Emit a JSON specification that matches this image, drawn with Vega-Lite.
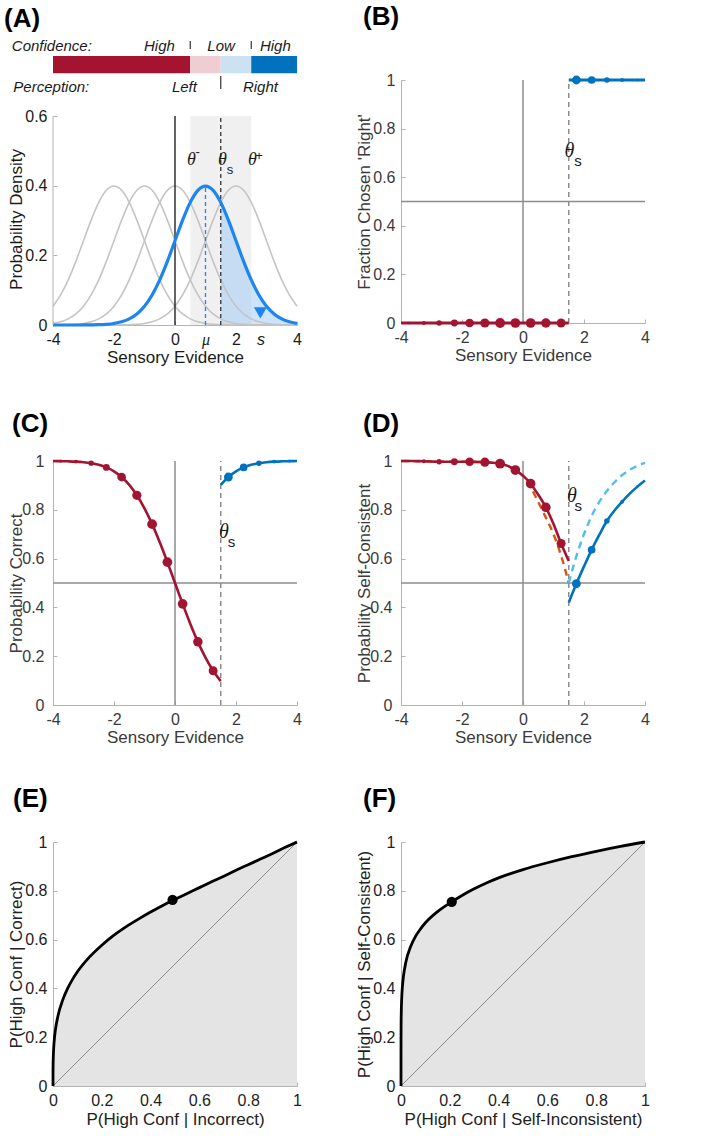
{
"$schema": "https://vega.github.io/schema/vega-lite/v6.json",
"background": "white",
"padding": {"left": 4, "top": 4, "right": 10, "bottom": 10},
"columns": 2,
"spacing": {"row": 136, "column": 104},
"bounds": "flush",
"align": "all",
"resolve": {"scale": {"color": "independent", "size": "independent"}},
"datasets": {
"gauss": [
{"x":-4,"y":0.054,"m":"a"},{"x":-3.75,"y":0.0863,"m":"a"},{"x":-3.5,"y":0.1295,"m":"a"},{"x":-3.25,"y":0.1826,"m":"a"},{"x":-3,"y":0.242,"m":"a"},{"x":-2.75,"y":0.3011,"m":"a"},{"x":-2.5,"y":0.3521,"m":"a"},{"x":-2.25,"y":0.3867,"m":"a"},{"x":-2,"y":0.3989,"m":"a"},{"x":-1.75,"y":0.3867,"m":"a"},{"x":-1.5,"y":0.3521,"m":"a"},{"x":-1.25,"y":0.3011,"m":"a"},{"x":-1,"y":0.242,"m":"a"},{"x":-0.75,"y":0.1826,"m":"a"},{"x":-0.5,"y":0.1295,"m":"a"},{"x":-0.25,"y":0.0863,"m":"a"},{"x":0,"y":0.054,"m":"a"},{"x":0.25,"y":0.0317,"m":"a"},{"x":0.5,"y":0.0175,"m":"a"},{"x":0.75,"y":0.0091,"m":"a"},{"x":1,"y":0.0044,"m":"a"},{"x":1.25,"y":0.002,"m":"a"},{"x":1.5,"y":0.0009,"m":"a"},{"x":1.75,"y":0.0004,"m":"a"},{"x":2,"y":0.0001,"m":"a"},{"x":2.25,"y":0,"m":"a"},{"x":2.5,"y":0,"m":"a"},{"x":2.75,"y":0,"m":"a"},{"x":3,"y":0,"m":"a"},{"x":3.25,"y":0,"m":"a"},{"x":3.5,"y":0,"m":"a"},{"x":3.75,"y":0,"m":"a"},{"x":4,"y":0,"m":"a"},
{"x":-4,"y":0.0044,"m":"c"},{"x":-3.75,"y":0.0091,"m":"c"},{"x":-3.5,"y":0.0175,"m":"c"},{"x":-3.25,"y":0.0317,"m":"c"},{"x":-3,"y":0.054,"m":"c"},{"x":-2.75,"y":0.0863,"m":"c"},{"x":-2.5,"y":0.1295,"m":"c"},{"x":-2.25,"y":0.1826,"m":"c"},{"x":-2,"y":0.242,"m":"c"},{"x":-1.75,"y":0.3011,"m":"c"},{"x":-1.5,"y":0.3521,"m":"c"},{"x":-1.25,"y":0.3867,"m":"c"},{"x":-1,"y":0.3989,"m":"c"},{"x":-0.75,"y":0.3867,"m":"c"},{"x":-0.5,"y":0.3521,"m":"c"},{"x":-0.25,"y":0.3011,"m":"c"},{"x":0,"y":0.242,"m":"c"},{"x":0.25,"y":0.1826,"m":"c"},{"x":0.5,"y":0.1295,"m":"c"},{"x":0.75,"y":0.0863,"m":"c"},{"x":1,"y":0.054,"m":"c"},{"x":1.25,"y":0.0317,"m":"c"},{"x":1.5,"y":0.0175,"m":"c"},{"x":1.75,"y":0.0091,"m":"c"},{"x":2,"y":0.0044,"m":"c"},{"x":2.25,"y":0.002,"m":"c"},{"x":2.5,"y":0.0009,"m":"c"},{"x":2.75,"y":0.0004,"m":"c"},{"x":3,"y":0.0001,"m":"c"},{"x":3.25,"y":0,"m":"c"},{"x":3.5,"y":0,"m":"c"},{"x":3.75,"y":0,"m":"c"},{"x":4,"y":0,"m":"c"},
{"x":-4,"y":0.0001,"m":"d"},{"x":-3.75,"y":0.0004,"m":"d"},{"x":-3.5,"y":0.0009,"m":"d"},{"x":-3.25,"y":0.002,"m":"d"},{"x":-3,"y":0.0044,"m":"d"},{"x":-2.75,"y":0.0091,"m":"d"},{"x":-2.5,"y":0.0175,"m":"d"},{"x":-2.25,"y":0.0317,"m":"d"},{"x":-2,"y":0.054,"m":"d"},{"x":-1.75,"y":0.0863,"m":"d"},{"x":-1.5,"y":0.1295,"m":"d"},{"x":-1.25,"y":0.1826,"m":"d"},{"x":-1,"y":0.242,"m":"d"},{"x":-0.75,"y":0.3011,"m":"d"},{"x":-0.5,"y":0.3521,"m":"d"},{"x":-0.25,"y":0.3867,"m":"d"},{"x":0,"y":0.3989,"m":"d"},{"x":0.25,"y":0.3867,"m":"d"},{"x":0.5,"y":0.3521,"m":"d"},{"x":0.75,"y":0.3011,"m":"d"},{"x":1,"y":0.242,"m":"d"},{"x":1.25,"y":0.1826,"m":"d"},{"x":1.5,"y":0.1295,"m":"d"},{"x":1.75,"y":0.0863,"m":"d"},{"x":2,"y":0.054,"m":"d"},{"x":2.25,"y":0.0317,"m":"d"},{"x":2.5,"y":0.0175,"m":"d"},{"x":2.75,"y":0.0091,"m":"d"},{"x":3,"y":0.0044,"m":"d"},{"x":3.25,"y":0.002,"m":"d"},{"x":3.5,"y":0.0009,"m":"d"},{"x":3.75,"y":0.0004,"m":"d"},{"x":4,"y":0.0001,"m":"d"},
{"x":-4,"y":0,"m":"e"},{"x":-3.75,"y":0,"m":"e"},{"x":-3.5,"y":0,"m":"e"},{"x":-3.25,"y":0,"m":"e"},{"x":-3,"y":0,"m":"e"},{"x":-2.75,"y":0,"m":"e"},{"x":-2.5,"y":0,"m":"e"},{"x":-2.25,"y":0,"m":"e"},{"x":-2,"y":0.0001,"m":"e"},{"x":-1.75,"y":0.0004,"m":"e"},{"x":-1.5,"y":0.0009,"m":"e"},{"x":-1.25,"y":0.002,"m":"e"},{"x":-1,"y":0.0044,"m":"e"},{"x":-0.75,"y":0.0091,"m":"e"},{"x":-0.5,"y":0.0175,"m":"e"},{"x":-0.25,"y":0.0317,"m":"e"},{"x":0,"y":0.054,"m":"e"},{"x":0.25,"y":0.0863,"m":"e"},{"x":0.5,"y":0.1295,"m":"e"},{"x":0.75,"y":0.1826,"m":"e"},{"x":1,"y":0.242,"m":"e"},{"x":1.25,"y":0.3011,"m":"e"},{"x":1.5,"y":0.3521,"m":"e"},{"x":1.75,"y":0.3867,"m":"e"},{"x":2,"y":0.3989,"m":"e"},{"x":2.25,"y":0.3867,"m":"e"},{"x":2.5,"y":0.3521,"m":"e"},{"x":2.75,"y":0.3011,"m":"e"},{"x":3,"y":0.242,"m":"e"},{"x":3.25,"y":0.1826,"m":"e"},{"x":3.5,"y":0.1295,"m":"e"},{"x":3.75,"y":0.0863,"m":"e"},{"x":4,"y":0.054,"m":"e"},
{"x":-4,"y":0,"m":"b"},{"x":-3.75,"y":0,"m":"b"},{"x":-3.5,"y":0,"m":"b"},{"x":-3.25,"y":0,"m":"b"},{"x":-3,"y":0.0001,"m":"b"},{"x":-2.75,"y":0.0004,"m":"b"},{"x":-2.5,"y":0.0009,"m":"b"},{"x":-2.25,"y":0.002,"m":"b"},{"x":-2,"y":0.0044,"m":"b"},{"x":-1.75,"y":0.0091,"m":"b"},{"x":-1.5,"y":0.0175,"m":"b"},{"x":-1.25,"y":0.0317,"m":"b"},{"x":-1,"y":0.054,"m":"b"},{"x":-0.75,"y":0.0863,"m":"b"},{"x":-0.5,"y":0.1295,"m":"b"},{"x":-0.25,"y":0.1826,"m":"b"},{"x":0,"y":0.242,"m":"b"},{"x":0.25,"y":0.3011,"m":"b"},{"x":0.5,"y":0.3521,"m":"b"},{"x":0.75,"y":0.3867,"m":"b"},{"x":1,"y":0.3989,"m":"b"},{"x":1.25,"y":0.3867,"m":"b"},{"x":1.5,"y":0.3521,"m":"b"},{"x":1.75,"y":0.3011,"m":"b"},{"x":2,"y":0.242,"m":"b"},{"x":2.25,"y":0.1826,"m":"b"},{"x":2.5,"y":0.1295,"m":"b"},{"x":2.75,"y":0.0863,"m":"b"},{"x":3,"y":0.054,"m":"b"},{"x":3.25,"y":0.0317,"m":"b"},{"x":3.5,"y":0.0175,"m":"b"},{"x":3.75,"y":0.0091,"m":"b"},{"x":4,"y":0.0044,"m":"b"}
],
"ptsB": [
{"x":-3.75,"y":0,"w":0.6,"side":"L"},{"x":-3.25,"y":0,"w":1.3,"side":"L"},{"x":-2.75,"y":0,"w":2.4,"side":"L"},{"x":-2.25,"y":0,"w":4.0,"side":"L"},{"x":-1.75,"y":0,"w":6.4,"side":"L"},{"x":-1.25,"y":0,"w":7.2,"side":"L"},{"x":-0.75,"y":0,"w":8.2,"side":"L"},{"x":-0.25,"y":0,"w":8.0,"side":"L"},{"x":0.25,"y":0,"w":7.9,"side":"L"},{"x":0.75,"y":0,"w":7.6,"side":"L"},{"x":1.25,"y":0,"w":6.8,"side":"L"},
{"x":1.75,"y":1,"w":6.6,"side":"R"},{"x":2.25,"y":1,"w":5.0,"side":"R"},{"x":2.75,"y":1,"w":2.6,"side":"R"},{"x":3.25,"y":1,"w":1.2,"side":"R"},{"x":3.75,"y":1,"w":0.6,"side":"R"}
],
"ptsC": [
{"x":-3.75,"y":0.9994,"w":0.6,"side":"L"},{"x":-3.25,"y":0.9975,"w":1.3,"side":"L"},{"x":-2.75,"y":0.9911,"w":2.4,"side":"L"},{"x":-2.25,"y":0.9738,"w":4.0,"side":"L"},{"x":-1.75,"y":0.9343,"w":6.4,"side":"L"},{"x":-1.25,"y":0.8595,"w":7.2,"side":"L"},{"x":-0.75,"y":0.7412,"w":8.2,"side":"L"},{"x":-0.25,"y":0.5855,"w":8.0,"side":"L"},{"x":0.25,"y":0.4145,"w":7.9,"side":"L"},{"x":0.75,"y":0.2588,"w":7.6,"side":"L"},{"x":1.25,"y":0.1405,"w":6.8,"side":"L"},
{"x":1.75,"y":0.9343,"w":6.6,"side":"R"},{"x":2.25,"y":0.9738,"w":5.0,"side":"R"},{"x":2.75,"y":0.9911,"w":2.6,"side":"R"},{"x":3.25,"y":0.9975,"w":1.2,"side":"R"},{"x":3.75,"y":0.9994,"w":0.6,"side":"R"}
],
"curC": [
{"x":-4,"y":0.9997,"side":"L"},{"x":-3.75,"y":0.9994,"side":"L"},{"x":-3.5,"y":0.9987,"side":"L"},{"x":-3.25,"y":0.9975,"side":"L"},{"x":-3,"y":0.9952,"side":"L"},{"x":-2.75,"y":0.9911,"side":"L"},{"x":-2.5,"y":0.9844,"side":"L"},{"x":-2.25,"y":0.9738,"side":"L"},{"x":-2,"y":0.9577,"side":"L"},{"x":-1.75,"y":0.9343,"side":"L"},{"x":-1.5,"y":0.902,"side":"L"},{"x":-1.25,"y":0.8595,"side":"L"},{"x":-1,"y":0.8057,"side":"L"},{"x":-0.75,"y":0.7412,"side":"L"},{"x":-0.5,"y":0.6668,"side":"L"},{"x":-0.25,"y":0.5855,"side":"L"},{"x":0,"y":0.5,"side":"L"},{"x":0.25,"y":0.4145,"side":"L"},{"x":0.5,"y":0.3332,"side":"L"},{"x":0.75,"y":0.2588,"side":"L"},{"x":1,"y":0.1943,"side":"L"},{"x":1.25,"y":0.1405,"side":"L"},{"x":1.5,"y":0.098,"side":"L"},
{"x":1.5,"y":0.902,"side":"R"},{"x":1.75,"y":0.9343,"side":"R"},{"x":2,"y":0.9577,"side":"R"},{"x":2.25,"y":0.9738,"side":"R"},{"x":2.5,"y":0.9844,"side":"R"},{"x":2.75,"y":0.9911,"side":"R"},{"x":3,"y":0.9952,"side":"R"},{"x":3.25,"y":0.9975,"side":"R"},{"x":3.5,"y":0.9987,"side":"R"},{"x":3.75,"y":0.9994,"side":"R"},{"x":4,"y":0.9997,"side":"R"}
],
"ptsD": [
{"x":-3.75,"y":1.0,"w":0.6,"side":"L"},{"x":-3.25,"y":0.999,"w":1.3,"side":"L"},{"x":-2.75,"y":0.997,"w":2.4,"side":"L"},{"x":-2.25,"y":0.997,"w":4.0,"side":"L"},{"x":-1.75,"y":0.997,"w":6.4,"side":"L"},{"x":-1.25,"y":0.995,"w":7.2,"side":"L"},{"x":-0.75,"y":0.989,"w":8.2,"side":"L"},{"x":-0.25,"y":0.963,"w":8.0,"side":"L"},{"x":0.25,"y":0.907,"w":7.9,"side":"L"},{"x":0.75,"y":0.81,"w":7.6,"side":"L"},{"x":1.25,"y":0.662,"w":6.8,"side":"L"},
{"x":1.75,"y":0.497,"w":6.6,"side":"R"},{"x":2.25,"y":0.636,"w":5.0,"side":"R"},{"x":2.75,"y":0.754,"w":2.6,"side":"R"},{"x":3.25,"y":0.833,"w":1.2,"side":"R"},{"x":3.75,"y":0.895,"w":0.6,"side":"R"}
],
"curD": [
{"x":-4,"y":1.0,"side":"L"},{"x":-3.75,"y":1.0,"side":"L"},{"x":-3.5,"y":0.9995,"side":"L"},{"x":-3.25,"y":0.999,"side":"L"},{"x":-3,"y":0.998,"side":"L"},{"x":-2.75,"y":0.997,"side":"L"},{"x":-2.5,"y":0.997,"side":"L"},{"x":-2.25,"y":0.997,"side":"L"},{"x":-2,"y":0.997,"side":"L"},{"x":-1.75,"y":0.997,"side":"L"},{"x":-1.5,"y":0.996,"side":"L"},{"x":-1.25,"y":0.995,"side":"L"},{"x":-1,"y":0.993,"side":"L"},{"x":-0.75,"y":0.989,"side":"L"},{"x":-0.5,"y":0.98,"side":"L"},{"x":-0.25,"y":0.963,"side":"L"},{"x":0,"y":0.94,"side":"L"},{"x":0.25,"y":0.907,"side":"L"},{"x":0.5,"y":0.862,"side":"L"},{"x":0.75,"y":0.81,"side":"L"},{"x":1,"y":0.742,"side":"L"},{"x":1.25,"y":0.662,"side":"L"},{"x":1.5,"y":0.59,"side":"L"},
{"x":1.5,"y":0.42,"side":"R"},{"x":1.75,"y":0.497,"side":"R"},{"x":2,"y":0.568,"side":"R"},{"x":2.25,"y":0.636,"side":"R"},{"x":2.5,"y":0.697,"side":"R"},{"x":2.75,"y":0.754,"side":"R"},{"x":3,"y":0.797,"side":"R"},{"x":3.25,"y":0.833,"side":"R"},{"x":3.5,"y":0.866,"side":"R"},{"x":3.75,"y":0.895,"side":"R"},{"x":4,"y":0.92,"side":"R"}
],
"dashD": [
{"x":-4,"y":1.0,"side":"Ld"},{"x":-3.5,"y":0.9995,"side":"Ld"},{"x":-3,"y":0.998,"side":"Ld"},{"x":-2.5,"y":0.997,"side":"Ld"},{"x":-2,"y":0.997,"side":"Ld"},{"x":-1.5,"y":0.996,"side":"Ld"},{"x":-1,"y":0.993,"side":"Ld"},{"x":-0.75,"y":0.989,"side":"Ld"},{"x":-0.5,"y":0.98,"side":"Ld"},{"x":-0.25,"y":0.962,"side":"Ld"},{"x":0,"y":0.938,"side":"Ld"},{"x":0.25,"y":0.893,"side":"Ld"},{"x":0.5,"y":0.832,"side":"Ld"},{"x":0.75,"y":0.768,"side":"Ld"},{"x":1,"y":0.7,"side":"Ld"},{"x":1.25,"y":0.612,"side":"Ld"},{"x":1.5,"y":0.5,"side":"Ld"},
{"x":1.5,"y":0.5,"side":"Rd"},{"x":1.75,"y":0.61,"side":"Rd"},{"x":2,"y":0.7,"side":"Rd"},{"x":2.25,"y":0.775,"side":"Rd"},{"x":2.5,"y":0.832,"side":"Rd"},{"x":2.75,"y":0.877,"side":"Rd"},{"x":3,"y":0.913,"side":"Rd"},{"x":3.25,"y":0.942,"side":"Rd"},{"x":3.5,"y":0.964,"side":"Rd"},{"x":3.75,"y":0.98,"side":"Rd"},{"x":4,"y":0.992,"side":"Rd"}
],
"rocE": [
{"x":0,"y":0},{"x":0.0001,"y":0.054},{"x":0.0005,"y":0.09},{"x":0.001,"y":0.112},{"x":0.003,"y":0.158},{"x":0.006,"y":0.197},{"x":0.01,"y":0.231},{"x":0.02,"y":0.286},{"x":0.04,"y":0.353},{"x":0.06,"y":0.4},{"x":0.08,"y":0.437},{"x":0.1,"y":0.468},{"x":0.15,"y":0.529},{"x":0.2,"y":0.577},{"x":0.25,"y":0.618},{"x":0.3,"y":0.653},{"x":0.35,"y":0.684},{"x":0.4,"y":0.713},{"x":0.45,"y":0.74},{"x":0.5,"y":0.765},{"x":0.55,"y":0.789},{"x":0.6,"y":0.813},{"x":0.65,"y":0.837},{"x":0.7,"y":0.86},{"x":0.75,"y":0.884},{"x":0.8,"y":0.907},{"x":0.85,"y":0.93},{"x":0.9,"y":0.953},{"x":0.95,"y":0.977},{"x":1,"y":1}
],
"rocF": [
{"x":0,"y":0},{"x":0.0001,"y":0.189},{"x":0.0005,"y":0.258},{"x":0.001,"y":0.294},{"x":0.003,"y":0.361},{"x":0.006,"y":0.41},{"x":0.01,"y":0.449},{"x":0.02,"y":0.508},{"x":0.04,"y":0.573},{"x":0.06,"y":0.614},{"x":0.08,"y":0.644},{"x":0.1,"y":0.669},{"x":0.15,"y":0.715},{"x":0.208,"y":0.755},{"x":0.25,"y":0.781},{"x":0.3,"y":0.808},{"x":0.35,"y":0.832},{"x":0.4,"y":0.853},{"x":0.5,"y":0.887},{"x":0.6,"y":0.915},{"x":0.7,"y":0.94},{"x":0.8,"y":0.962},{"x":0.9,"y":0.982},{"x":1,"y":1}
]
},
"concat": [
{
"width": 244, "height": 245,
"title": {"text": "(A)", "dx": -49, "offset": 6.5},
"data": {"name": "gauss"},
"encoding": {
"x": {"field": "x", "type": "quantitative", "scale": {"domain": [-4, 4], "nice": false, "zero": false},
"axis": {"values": [-4, -2, 0, 1, 2, 2.8, 4], "labelExpr": "datum.value == 1 ? 'μ' : datum.value == 2.8 ? 's' : replace(datum.label, '−', '-')", "format": "~g",
"labelFont": {"condition": {"test": "datum.value == 1", "value": "Liberation Serif"}, "value": "Liberation Sans"},
"labelFontStyle": {"condition": {"test": "datum.value == 1 || datum.value == 2.8", "value": "italic"}, "value": "normal"},
"tickOpacity": {"condition": {"test": "datum.value == 1 || datum.value == 2.8", "value": 0}, "value": 1},
"title": "Sensory Evidence", "titleX": 122, "titleY": 32, "labelColor": "#1A1A1A", "titleColor": "#1A1A1A"}},
"y": {"field": "y", "type": "quantitative", "scale": {"domain": [0, 0.7034], "nice": false},
"axis": {"values": [0, 0.2, 0.4, 0.6], "format": "~g", "domain": false, "title": "Probability Density", "titleX": -37, "titleY": 139, "labelPadding": 10, "labelColor": "#1A1A1A", "titleColor": "#1A1A1A"}}
},
"layer": [
{"data": {"values": [{"x": 0.5, "x2": 2.5, "y": 0, "y2": 0.6}]}, "mark": {"type": "rect", "color": "#F0F0F0"}, "encoding": {"x2": {"field": "x2"}, "y2": {"field": "y2"}}},
{"transform": [{"filter": "datum.m == 'b' && datum.x >= 1.5"}], "mark": {"type": "area", "color": "#9CC8F5", "opacity": 0.5, "interpolate": "monotone"}},
{"transform": [{"filter": "datum.m != 'b'"}], "mark": {"type": "line", "color": "#C4C4C4", "strokeWidth": 1.6, "interpolate": "monotone"}, "encoding": {"detail": {"field": "m"}}},
{"data": {"values": [{"x": 0, "y": 0, "y2": 0.6}]}, "mark": {"type": "rule", "color": "#111111", "strokeWidth": 1.3}, "encoding": {"y2": {"field": "y2"}}},
{"data": {"values": [{"x": 1.5, "y": 0, "y2": 0.6}]}, "mark": {"type": "rule", "color": "#333333", "strokeWidth": 1.3, "strokeDash": [4, 3]}, "encoding": {"y2": {"field": "y2"}}},
{"data": {"values": [{"x": 1, "y": 0, "y2": 0.3989}]}, "mark": {"type": "rule", "color": "#1C86EE", "strokeWidth": 1.3, "strokeDash": [4, 3]}, "encoding": {"y2": {"field": "y2"}}},
{"transform": [{"filter": "datum.m == 'b'"}], "mark": {"type": "line", "color": "#1C86EE", "strokeWidth": 3.2, "interpolate": "monotone"}},
{"data": {"values": [{"x": 2.8, "y": 0.0345}]}, "mark": {"type": "point", "shape": "triangle-down", "filled": true, "color": "#1C86EE", "size": 169, "opacity": 1}},
{"data": {"values": [{"x": -4, "y": 0, "y2": 0.6}]}, "mark": {"type": "rule", "color": "#B3B3B3", "strokeWidth": 1}, "encoding": {"y2": {"field": "y2"}}},
{"data": {"values": [{"x": -4, "x2": 0.5, "y": 0.7227, "y2": 0.7723, "seg": "LH"}, {"x": 0.5, "x2": 1.5, "y": 0.7227, "y2": 0.7723, "seg": "LL"}, {"x": 1.5, "x2": 2.5, "y": 0.7227, "y2": 0.7723, "seg": "RL"}, {"x": 2.5, "x2": 4, "y": 0.7227, "y2": 0.7723, "seg": "RH"}]},
"mark": {"type": "rect"},
"encoding": {"x2": {"field": "x2"}, "y2": {"field": "y2"},
"color": {"field": "seg", "type": "nominal", "scale": {"domain": ["LH", "LL", "RL", "RH"], "range": ["#A2142F", "#F0CCD3", "#CCE2F3", "#0072BD"]}, "legend": null}}},
{"data": {"values": [{"x": 0.5, "y": 0.7924, "y2": 0.8154}, {"x": 2.5, "y": 0.7924, "y2": 0.8154}, {"x": 1.5, "y": 0.6776, "y2": 0.7149}]}, "mark": {"type": "rule", "color": "#333333", "strokeWidth": 1.2}, "encoding": {"y2": {"field": "y2"}}},
{"data": {"values": [{"x": -5.35, "y": 0.802, "t": "Confidence:"}, {"x": -5.3, "y": 0.6825, "t": "Perception:"}]}, "mark": {"type": "text", "align": "left", "baseline": "middle", "font": "Liberation Sans", "fontStyle": "italic", "fontSize": 15, "color": "#1A1A1A"}, "encoding": {"text": {"field": "t"}}},
{"data": {"values": [{"x": -0.51, "y": 0.802, "t": "High"}, {"x": 1.51, "y": 0.802, "t": "Low"}, {"x": 3.29, "y": 0.802, "t": "High"}, {"x": 0.31, "y": 0.6825, "t": "Left"}, {"x": 2.8, "y": 0.6825, "t": "Right"}]}, "mark": {"type": "text", "align": "center", "baseline": "middle", "font": "Liberation Sans", "fontStyle": "italic", "fontSize": 15, "color": "#1A1A1A"}, "encoding": {"text": {"field": "t"}}},
{"data": {"values": [{"x": 0.541, "y": 0.474, "t": "θ"}, {"x": 1.557, "y": 0.474, "t": "θ"}, {"x": 2.541, "y": 0.474, "t": "θ"}]}, "mark": {"type": "text", "align": "center", "baseline": "middle", "font": "Liberation Serif", "fontStyle": "italic", "fontSize": 18, "color": "#1A1A1A"}, "encoding": {"text": {"field": "t"}}},
{"data": {"values": [{"x": 0.744, "y": 0.496, "t": "-"}, {"x": 1.803, "y": 0.446, "t": "s"}, {"x": 2.754, "y": 0.486, "t": "+"}]}, "mark": {"type": "text", "align": "center", "baseline": "middle", "font": "Liberation Sans", "fontSize": 13, "color": "#1A1A1A"}, "encoding": {"text": {"field": "t"}}}
]
},
{
"width": 244, "height": 243,
"title": {"text": "(B)", "dx": -38, "offset": 42},
"encoding": {
"x": {"field": "x", "type": "quantitative", "scale": {"domain": [-4, 4], "nice": false, "zero": false},
"axis": {"values": [-4, -2, 0, 2, 4], "format": "~g", "labelExpr": "replace(datum.label, '−', '-')", "title": "Sensory Evidence", "titleX": 122, "titleY": 32}},
"y": {"field": "y", "type": "quantitative", "scale": {"domain": [0, 1], "nice": false},
"axis": {"values": [0, 0.2, 0.4, 0.6, 0.8, 1], "format": "~g", "title": "Fraction Chosen 'Right'", "titleX": -37, "titleY": 121.5, "labelPadding": 10}}
},
"layer": [
{"data": {"values": [{"x": -4, "x2": 4, "y": 0.5}]}, "mark": {"type": "rule", "color": "#8C8C8C", "strokeWidth": 1.5}, "encoding": {"x2": {"field": "x2"}}},
{"data": {"values": [{"x": 0, "y": 0, "y2": 1}]}, "mark": {"type": "rule", "color": "#8C8C8C", "strokeWidth": 1.5}, "encoding": {"y2": {"field": "y2"}}},
{"data": {"values": [{"x": 1.5, "y": 0, "y2": 1}]}, "mark": {"type": "rule", "color": "#8C8C8C", "strokeWidth": 1.5, "strokeDash": [5, 4]}, "encoding": {"y2": {"field": "y2"}}},
{"data": {"values": [{"x": -4, "y": 0, "side": "L"}, {"x": 1.5, "y": 0, "side": "L"}, {"x": 1.5, "y": 1, "side": "R"}, {"x": 4, "y": 1, "side": "R"}]},
"mark": {"type": "line", "strokeWidth": 3},
"encoding": {"color": {"field": "side", "type": "nominal", "scale": {"domain": ["L", "R"], "range": ["#A2142F", "#0072BD"]}, "legend": null}}},
{"data": {"name": "ptsB"}, "mark": {"type": "point", "filled": true, "opacity": 1},
"encoding": {"color": {"field": "side", "type": "nominal", "scale": {"domain": ["L", "R"], "range": ["#A2142F", "#0072BD"]}, "legend": null},
"size": {"field": "w", "type": "quantitative", "scale": {"domain": [0, 10], "range": [0, 118]}, "legend": null}}},
{"data": {"values": [{"x": 1.525, "y": 0.708, "t": "θ"}]}, "mark": {"type": "text", "align": "center", "baseline": "middle", "font": "Liberation Serif", "fontStyle": "italic", "fontSize": 20, "color": "#1A1A1A"}, "encoding": {"text": {"field": "t"}}},
{"data": {"values": [{"x": 1.8, "y": 0.665, "t": "s"}]}, "mark": {"type": "text", "align": "center", "baseline": "middle", "font": "Liberation Sans", "fontSize": 15, "color": "#1A1A1A"}, "encoding": {"text": {"field": "t"}}}
]
},
{
"width": 244, "height": 244,
"title": {"text": "(C)", "dx": -41, "offset": 16.5},
"encoding": {
"x": {"field": "x", "type": "quantitative", "scale": {"domain": [-4, 4], "nice": false, "zero": false},
"axis": {"values": [-4, -2, 0, 2, 4], "format": "~g", "labelExpr": "replace(datum.label, '−', '-')", "title": "Sensory Evidence", "titleX": 122, "titleY": 32}},
"y": {"field": "y", "type": "quantitative", "scale": {"domain": [0, 1], "nice": false},
"axis": {"values": [0, 0.2, 0.4, 0.6, 0.8, 1], "format": "~g", "title": "Probability Correct", "titleX": -37, "titleY": 122, "labelPadding": 13}}
},
"layer": [
{"data": {"values": [{"x": -4, "x2": 4, "y": 0.5}]}, "mark": {"type": "rule", "color": "#8C8C8C", "strokeWidth": 1.5}, "encoding": {"x2": {"field": "x2"}}},
{"data": {"values": [{"x": 0, "y": 0, "y2": 1}]}, "mark": {"type": "rule", "color": "#8C8C8C", "strokeWidth": 1.5}, "encoding": {"y2": {"field": "y2"}}},
{"data": {"values": [{"x": 1.5, "y": 0, "y2": 1}]}, "mark": {"type": "rule", "color": "#8C8C8C", "strokeWidth": 1.5, "strokeDash": [5, 4]}, "encoding": {"y2": {"field": "y2"}}},
{"data": {"name": "curC"}, "mark": {"type": "line", "strokeWidth": 2.6, "interpolate": "monotone"},
"encoding": {"color": {"field": "side", "type": "nominal", "scale": {"domain": ["L", "R"], "range": ["#A2142F", "#0072BD"]}, "legend": null}}},
{"data": {"name": "ptsC"}, "mark": {"type": "point", "filled": true, "opacity": 1},
"encoding": {"color": {"field": "side", "type": "nominal", "scale": {"domain": ["L", "R"], "range": ["#A2142F", "#0072BD"]}, "legend": null},
"size": {"field": "w", "type": "quantitative", "scale": {"domain": [0, 10], "range": [0, 118]}, "legend": null}}},
{"data": {"values": [{"x": 1.607, "y": 0.707, "t": "θ"}]}, "mark": {"type": "text", "align": "center", "baseline": "middle", "font": "Liberation Serif", "fontStyle": "italic", "fontSize": 20, "color": "#1A1A1A"}, "encoding": {"text": {"field": "t"}}},
{"data": {"values": [{"x": 1.85, "y": 0.668, "t": "s"}]}, "mark": {"type": "text", "align": "center", "baseline": "middle", "font": "Liberation Sans", "fontSize": 15, "color": "#1A1A1A"}, "encoding": {"text": {"field": "t"}}}
]
},
{
"width": 244, "height": 244,
"title": {"text": "(D)", "dx": -38, "offset": 16.5},
"encoding": {
"x": {"field": "x", "type": "quantitative", "scale": {"domain": [-4, 4], "nice": false, "zero": false},
"axis": {"values": [-4, -2, 0, 2, 4], "format": "~g", "labelExpr": "replace(datum.label, '−', '-')", "title": "Sensory Evidence", "titleX": 122, "titleY": 32}},
"y": {"field": "y", "type": "quantitative", "scale": {"domain": [0, 1], "nice": false},
"axis": {"values": [0, 0.2, 0.4, 0.6, 0.8, 1], "format": "~g", "title": "Probability Self-Consistent", "titleX": -37, "titleY": 122, "labelPadding": 13}}
},
"layer": [
{"data": {"values": [{"x": -4, "x2": 4, "y": 0.5}]}, "mark": {"type": "rule", "color": "#8C8C8C", "strokeWidth": 1.5}, "encoding": {"x2": {"field": "x2"}}},
{"data": {"values": [{"x": 0, "y": 0, "y2": 1}]}, "mark": {"type": "rule", "color": "#8C8C8C", "strokeWidth": 1.5}, "encoding": {"y2": {"field": "y2"}}},
{"data": {"values": [{"x": 1.5, "y": 0, "y2": 1}]}, "mark": {"type": "rule", "color": "#8C8C8C", "strokeWidth": 1.5, "strokeDash": [5, 4]}, "encoding": {"y2": {"field": "y2"}}},
{"data": {"name": "dashD"}, "mark": {"type": "line", "strokeWidth": 2.4, "strokeDash": [7, 5], "interpolate": "monotone"},
"encoding": {"color": {"field": "side", "type": "nominal", "scale": {"domain": ["L", "R", "Ld", "Rd"], "range": ["#A2142F", "#0072BD", "#D95319", "#4DBEEE"]}, "legend": null}}},
{"data": {"name": "curD"}, "mark": {"type": "line", "strokeWidth": 2.6, "interpolate": "monotone"},
"encoding": {"color": {"field": "side", "type": "nominal", "scale": {"domain": ["L", "R", "Ld", "Rd"], "range": ["#A2142F", "#0072BD", "#D95319", "#4DBEEE"]}, "legend": null}}},
{"data": {"name": "ptsD"}, "mark": {"type": "point", "filled": true, "opacity": 1},
"encoding": {"color": {"field": "side", "type": "nominal", "scale": {"domain": ["L", "R", "Ld", "Rd"], "range": ["#A2142F", "#0072BD", "#D95319", "#4DBEEE"]}, "legend": null},
"size": {"field": "w", "type": "quantitative", "scale": {"domain": [0, 10], "range": [0, 118]}, "legend": null}}},
{"data": {"values": [{"x": 1.6, "y": 0.855, "t": "θ"}]}, "mark": {"type": "text", "align": "center", "baseline": "middle", "font": "Liberation Serif", "fontStyle": "italic", "fontSize": 20, "color": "#1A1A1A"}, "encoding": {"text": {"field": "t"}}},
{"data": {"values": [{"x": 1.81, "y": 0.816, "t": "s"}]}, "mark": {"type": "text", "align": "center", "baseline": "middle", "font": "Liberation Sans", "fontSize": 15, "color": "#1A1A1A"}, "encoding": {"text": {"field": "t"}}}
]
},
{
"width": 244, "height": 244,
"title": {"text": "(E)", "dx": -40, "offset": 22.5},
"data": {"name": "rocE"},
"encoding": {
"x": {"field": "x", "type": "quantitative", "scale": {"domain": [0, 1], "nice": false},
"axis": {"values": [0, 0.2, 0.4, 0.6, 0.8, 1], "format": "~g", "title": "P(High Conf | Incorrect)", "titleX": 122, "titleY": 33, "labelColor": "#222222", "titleColor": "#222222"}},
"y": {"field": "y", "type": "quantitative", "scale": {"domain": [0, 1], "nice": false},
"axis": {"values": [0, 0.2, 0.4, 0.6, 0.8, 1], "format": "~g", "title": "P(High Conf | Correct)", "titleX": -37, "titleY": 122, "labelPadding": 10, "labelColor": "#222222", "titleColor": "#222222"}}
},
"layer": [
{"mark": {"type": "area", "color": "#E4E4E4", "interpolate": "monotone"}},
{"data": {"values": [{"x": 0, "y": 0}, {"x": 1, "y": 1}]}, "mark": {"type": "line", "color": "#8A8A8A", "strokeWidth": 1}},
{"mark": {"type": "line", "color": "#000000", "strokeWidth": 2.8, "interpolate": "monotone"}},
{"data": {"values": [{"x": 0.49, "y": 0.763}]}, "mark": {"type": "point", "filled": true, "color": "#000000", "size": 105, "opacity": 1}}
]
},
{
"width": 244, "height": 244,
"title": {"text": "(F)", "dx": -38, "offset": 22.5},
"data": {"name": "rocF"},
"encoding": {
"x": {"field": "x", "type": "quantitative", "scale": {"domain": [0, 1], "nice": false},
"axis": {"values": [0, 0.2, 0.4, 0.6, 0.8, 1], "format": "~g", "title": "P(High Conf | Self-Inconsistent)", "titleX": 122, "titleY": 33, "labelColor": "#222222", "titleColor": "#222222"}},
"y": {"field": "y", "type": "quantitative", "scale": {"domain": [0, 1], "nice": false},
"axis": {"values": [0, 0.2, 0.4, 0.6, 0.8, 1], "format": "~g", "title": "P(High Conf | Self-Consistent)", "titleX": -37, "titleY": 122, "labelPadding": 10, "labelColor": "#222222", "titleColor": "#222222"}}
},
"layer": [
{"mark": {"type": "area", "color": "#E4E4E4", "interpolate": "monotone"}},
{"data": {"values": [{"x": 0, "y": 0}, {"x": 1, "y": 1}]}, "mark": {"type": "line", "color": "#8A8A8A", "strokeWidth": 1}},
{"mark": {"type": "line", "color": "#000000", "strokeWidth": 2.8, "interpolate": "monotone"}},
{"data": {"values": [{"x": 0.208, "y": 0.755}]}, "mark": {"type": "point", "filled": true, "color": "#000000", "size": 105, "opacity": 1}}
]
}
],
"config": {
"view": {"stroke": null},
"axis": {"grid": false, "domainColor": "#B3B3B3", "domainWidth": 1, "tickColor": "#B3B3B3", "tickSize": -4, "tickWidth": 1, "labelFlush": false,
"labelFont": "Liberation Sans", "labelFontSize": 16, "labelColor": "#3A3A3A",
"titleFont": "Liberation Sans", "titleFontSize": 17, "titleFontWeight": "normal", "titleColor": "#3A3A3A", "titleBaseline": "middle"},
"axisX": {"labelPadding": 10},
"title": {"font": "Liberation Sans", "fontSize": 26, "fontWeight": "bold", "anchor": "start", "color": "#000000", "frame": "group"}
}
}
